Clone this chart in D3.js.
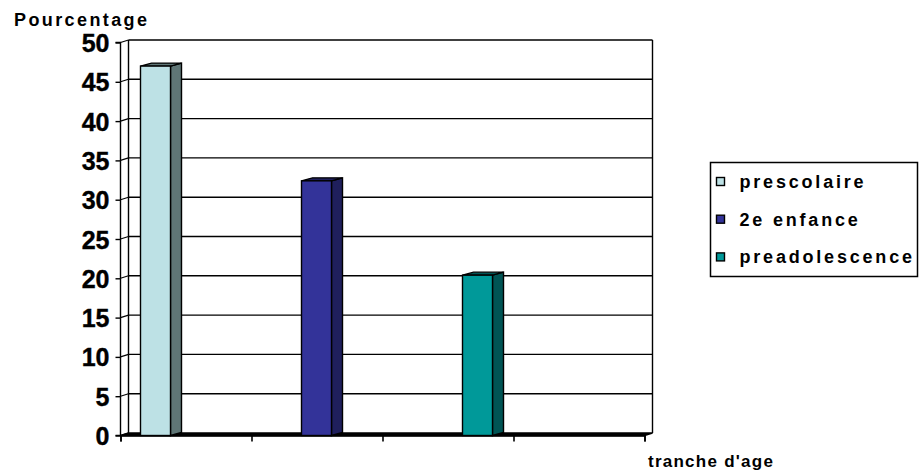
<!DOCTYPE html>
<html><head><meta charset="utf-8">
<script src="https://cdn.jsdelivr.net/npm/d3@7"></script>
<style>body{margin:0;background:#fff}svg{display:block}text{font-family:"Liberation Sans",Arial,sans-serif;font-weight:bold;fill:#000}</style>
</head><body><svg id="c" width="920" height="472"></svg>
<script>
const series = ["prescolaire", "2e enfance", "preadolescence"];
const values = [47.0, 32.4, 20.4];
const frontColors = ["#BDE1E5", "#333399", "#009999"];
const sideColors = ["#5F7676", "#1F1F5C", "#005454"];
const yTicks = [0, 5, 10, 15, 20, 25, 30, 35, 40, 45, 50];
const xTickSlots = [0, 1, 2, 3, 4];
const yTitle = "Pourcentage";
const xTitle = "tranche d'age";

const svg = d3.select("#c");
const y = d3.scaleLinear().domain([0, 50]).range([435.5, 42.5]);
const xt = d3.scaleLinear().domain([0, 4]).range([120.5, 644.5]);
const xb = d3.scalePoint().domain(series).range([140.5, 462.5]);
const bw = 30, bdx = 11, bdy = -3;   // bar width and 3D depth
const wdx = 8, wdy = -2.5;           // wall depth
const wallL = 120.5 + wdx, wallR = 644.5 + wdx;

// back wall gridlines
svg.append("g").selectAll("line").data(yTicks.filter(d => d > 0)).join("line")
  .attr("x1", wallL).attr("x2", wallR)
  .attr("y1", d => y(d) + wdy).attr("y2", d => y(d) + wdy)
  .attr("stroke", "#000").attr("stroke-width", 1.4);
// wall edges
svg.append("line").attr("x1", wallL).attr("x2", wallL).attr("y1", y(50) + wdy).attr("y2", y(0) + wdy).attr("stroke", "#000").attr("stroke-width", 1.4);
svg.append("line").attr("x1", wallR).attr("x2", wallR).attr("y1", y(50) + wdy).attr("y2", y(0) + wdy).attr("stroke", "#000").attr("stroke-width", 1.4);
// floor
svg.append("path").attr("d", `M${xt(0)},${y(0)}L${wallL},${y(0)+wdy}L${wallR},${y(0)+wdy}L${xt(4)},${y(0)}Z`)
  .attr("fill", "#000").attr("stroke", "#000").attr("stroke-width", 1.6);
// side wall connectors at ticks
svg.append("g").selectAll("line").data(yTicks).join("line")
  .attr("x1", xt(0)).attr("x2", wallL)
  .attr("y1", d => y(d)).attr("y2", d => y(d) + wdy)
  .attr("stroke", "#000").attr("stroke-width", 1.2);

// bars
const bars = svg.append("g").selectAll("g").data(series).join("g");
bars.append("path").attr("d", (d, i) => {
  const x0 = xb(d) + bw, yt = y(values[i]), yb = y(0);
  return `M${x0},${yb}L${x0},${yt}L${x0+bdx},${yt+bdy}L${x0+bdx},${yb+bdy}Z`;
}).attr("fill", (d, i) => sideColors[i]).attr("stroke", "#000").attr("stroke-width", 1.4);
bars.append("path").attr("d", (d, i) => {
  const x0 = xb(d), yt = y(values[i]);
  return `M${x0},${yt}L${x0+bdx},${yt+bdy}L${x0+bw+bdx},${yt+bdy}L${x0+bw},${yt}Z`;
}).attr("fill", (d, i) => sideColors[i]).attr("stroke", "#000").attr("stroke-width", 1.4);
bars.append("rect")
  .attr("x", d => xb(d)).attr("width", bw)
  .attr("y", (d, i) => y(values[i])).attr("height", (d, i) => y(0) - y(values[i]))
  .attr("fill", (d, i) => frontColors[i]).attr("stroke", "#000").attr("stroke-width", 1.4);

// y axis
const ya = svg.append("g").attr("transform", `translate(${xt(0)},0)`)
  .call(d3.axisLeft(y).tickValues(yTicks).tickSize(5).tickPadding(6));
ya.selectAll("path,line").attr("stroke", "#000").attr("stroke-width", 1.4);
ya.selectAll("text").attr("font-size", 25).attr("font-weight", "bold").attr("font-family", "Liberation Sans, Arial, sans-serif").attr("fill", "#000").attr("dy", "0.36em").attr("stroke", "#000").attr("stroke-width", 0.4);
ya.select(".domain").attr("d", `M-5,${y(50)}H0V${y(0)}H-5`);

// x axis
const xa = svg.append("g").attr("transform", `translate(0,${y(0)})`)
  .call(d3.axisBottom(xt).tickValues(xTickSlots).tickSize(6).tickFormat(""));
xa.selectAll("path,line").attr("stroke", "#000").attr("stroke-width", 1.6);

svg.append("text").attr("x", 14).attr("y", 26).attr("font-size", 18).attr("letter-spacing", 2.4).text(yTitle);
svg.append("text").attr("x", 648).attr("y", 467).attr("font-size", 17).attr("letter-spacing", 1.25).text(xTitle);

// legend
const lg = svg.append("g");
lg.append("rect").attr("x", 710.5).attr("y", 162.5).attr("width", 207).attr("height", 114)
  .attr("fill", "#fff").attr("stroke", "#000").attr("stroke-width", 1.5);
const li = lg.selectAll("g").data(series).join("g")
  .attr("transform", (d, i) => `translate(716.5,${182 + i * 37.7})`);
li.append("rect").attr("x", 0).attr("y", -4.5).attr("width", 8).attr("height", 8)
  .attr("fill", (d, i) => frontColors[i]).attr("stroke", "#000").attr("stroke-width", 1.4);
li.append("text").attr("x", 23).attr("y", 6).attr("font-size", 18).attr("letter-spacing", 2.8).text(d => d);
</script></body></html>
